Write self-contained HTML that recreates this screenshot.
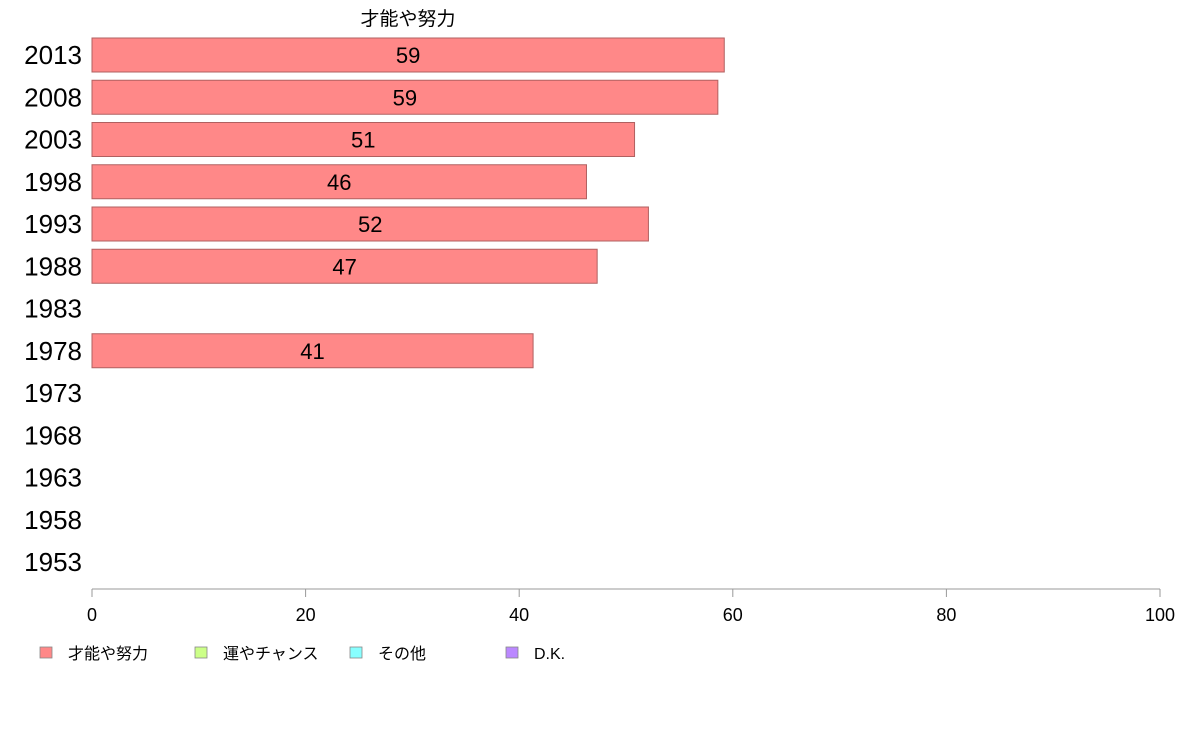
<!DOCTYPE html>
<html><head><meta charset="utf-8">
<style>
body{margin:0;background:#fff;}
svg{display:block;font-family:"Liberation Sans","Noto Sans CJK JP",sans-serif;}
</style></head>
<body>
<svg id="chart" width="1188" height="736" viewBox="0 0 1188 736">
<text x="408" y="25" font-size="19" text-anchor="middle">才能や努力</text>
<g id="bars"></g>
<g id="ylabels"></g>
<g id="xaxis"></g>
<g id="legend"></g>
</svg>
<script>
const categories = ["2013","2008","2003","1998","1993","1988","1983","1978","1973","1968","1963","1958","1953"];
const values = [59.2, 58.6, 50.8, 46.3, 52.1, 47.3, null, 41.3, null, null, null, null, null];
const valueLabels = ["59","59","51","46","52","47","","41","","","","",""];
const xTicks = [0,20,40,60,80,100];
const legendLabels = ["才能や努力","運やチャンス","その他","D.K."];
const legendColors = ["#ff8888","#ccff88","#88ffff","#bb88ff"];

const NS="http://www.w3.org/2000/svg";
const x0=92,x1=1160,yTop=55,yStep=42.25,barH=34,axisY=589;
const xs=v=>x0+(v/100)*(x1-x0);
const yc=i=>yTop+i*yStep;
function mk(t,a,p){const e=document.createElementNS(NS,t);for(const k in a)e.setAttribute(k,a[k]);p.appendChild(e);return e;}
const gb=document.getElementById('bars'),gy=document.getElementById('ylabels'),gx=document.getElementById('xaxis'),gl=document.getElementById('legend');
categories.forEach((c,i)=>{
  const t=mk('text',{x:82,y:yc(i)+9,'font-size':26,'text-anchor':'end'},gy);
  t.textContent=c;
  
  
  if(values[i]!=null){
    const r=mk('rect',{x:x0,y:yc(i)-barH/2,width:xs(values[i])-x0,height:barH,fill:'#ff8888',stroke:'#b06060','stroke-width':1},gb);
    
    
    const l=mk('text',{x:(x0+xs(values[i]))/2,y:yc(i)+8,'font-size':22,'text-anchor':'middle'},gb);
    l.textContent=valueLabels[i];
    
    
  }
});
const ax=mk('line',{x1:x0,y1:axisY,x2:x1,y2:axisY,stroke:'#999','stroke-width':1},gx);


xTicks.forEach(v=>{
  const tk=mk('line',{x1:xs(v),y1:axisY,x2:xs(v),y2:axisY+8,stroke:'#999'},gx);
  
  
  const t=mk('text',{x:xs(v),y:621,'font-size':18,'text-anchor':'middle'},gx);
  t.textContent=v;
  
  
});
const lx=[40,195,350,506];
legendLabels.forEach((s,i)=>{
  const r=mk('rect',{x:lx[i],y:647,width:12,height:11,fill:legendColors[i],stroke:'#888','stroke-width':0.8},gl);
  
  
  const t=mk('text',{x:lx[i]+28,y:659,'font-size':16},gl);
  t.textContent=s;
  
  
});
</script>
</body></html>
